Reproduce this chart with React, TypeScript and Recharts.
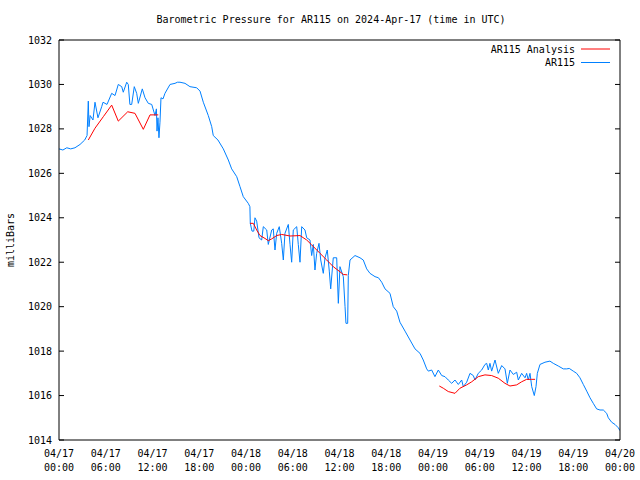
import React from "react";
import { LineChart, Line, XAxis, YAxis, Customized } from "recharts";

// Station observations (hours since 2024-04-17 00:00 UTC, pressure in mbar)
const ar115Hours = [
  0, 0.5, 1.0, 1.5, 2.05, 2.7, 3.3, 3.6, 3.76, 3.85, 4.0, 4.36, 4.62, 5.0, 5.48, 5.65, 6.16, 6.76, 7.19, 7.61,
  8.05, 8.25, 8.69, 8.89, 9.1, 9.33, 9.66, 9.97, 10.18, 10.69, 11.04, 11.46, 11.9, 12.32, 12.5, 12.58, 12.7, 12.83, 12.96, 13.09,
  13.35, 13.6, 14.25, 14.89, 15.2, 15.53, 16.17, 16.81, 17.67, 18.1, 18.52, 19.16, 19.6, 19.8, 20.4, 21.09, 21.73, 22.16, 22.81, 23.23,
  23.65, 24.29, 24.5, 24.55, 24.77, 25.0, 25.15, 25.37, 25.67, 26.01, 26.22, 26.66, 26.86, 27.3, 27.5, 27.72, 27.94, 28.27, 28.58, 28.79,
  29.0, 29.43, 29.65, 29.86, 30.07, 30.51, 30.71, 30.93, 31.15, 31.57, 31.79, 32.21, 32.43, 32.64, 32.85, 33.07, 33.37, 33.59, 33.92, 34.14,
  34.43, 34.69, 34.87, 35.2, 35.64, 35.85, 36.06, 36.49, 36.71, 36.83, 37.05, 37.13, 37.35, 37.99, 38.63, 39.05, 39.49, 39.91, 40.56, 41.0,
  41.42, 41.84, 42.48, 42.9, 43.34, 43.76, 44.41, 45.05, 45.69, 46.33, 46.75, 47.19, 47.4, 47.83, 48.25, 48.68, 49.12, 49.54, 49.96, 50.4,
  50.82, 51.25, 51.68, 51.89, 52.32, 52.75, 53.17, 53.39, 53.81, 54.25, 54.67, 54.89, 55.1, 55.31, 55.53, 55.96, 56.38, 56.82, 57.24, 57.54,
  57.88, 58.31, 58.74, 58.95, 59.38, 59.81, 60.02, 60.23, 60.45, 60.67, 61.0, 61.22, 61.39, 61.73, 62.37, 63.01, 63.44, 64.08, 64.72, 65.16,
  65.49, 66.0, 66.44, 66.86, 67.29, 67.73, 68.15, 68.57, 69.0, 69.43, 69.86, 70.29, 70.5, 70.93, 71.36, 71.78, 72.0,
];
const ar115Pressure = [
  1027.1, 1027.05, 1027.15, 1027.1, 1027.15, 1027.3, 1027.5, 1027.7, 1029.25, 1028.1, 1028.6, 1028.4, 1029.2, 1028.5, 1029.0, 1029.2, 1029.1, 1029.6, 1029.5, 1030.0,
  1029.9, 1029.65, 1030.1, 1030.0, 1029.1, 1029.1, 1029.9, 1029.6, 1029.15, 1029.8, 1029.4, 1029.15, 1029.1, 1028.6, 1028.9, 1027.9, 1028.5, 1027.6, 1028.3, 1029.4,
  1029.35, 1029.6, 1030.0, 1030.05, 1030.1, 1030.1, 1030.05, 1029.9, 1029.85, 1029.7, 1029.2, 1028.6, 1028.1, 1027.7, 1027.5, 1027.1, 1026.6, 1026.2, 1025.85, 1025.4,
  1024.95, 1024.65, 1024.5, 1023.75, 1023.4, 1023.4, 1024.0, 1023.85, 1023.1, 1023.0, 1023.6, 1023.45, 1022.8, 1023.45, 1023.5, 1022.55, 1023.3, 1023.6, 1022.85, 1022.1,
  1023.3, 1023.7, 1022.8, 1022.0, 1023.45, 1023.6, 1022.8, 1022.0, 1023.6, 1023.45, 1023.1, 1023.0, 1022.3, 1022.8, 1021.65, 1022.4, 1022.85, 1022.1, 1021.5, 1022.2,
  1022.55, 1021.6, 1020.8, 1022.2, 1022.2, 1020.15, 1021.8, 1021.35, 1020.0, 1019.25, 1019.25, 1021.4, 1022.1, 1022.3, 1022.2, 1022.1, 1021.7, 1021.5, 1021.35, 1021.3,
  1021.1, 1020.8, 1020.6, 1020.0, 1019.8, 1019.3, 1018.9, 1018.5, 1018.1, 1017.9, 1017.6, 1017.2, 1017.1, 1017.15, 1016.85, 1017.15, 1016.9, 1016.85, 1016.7, 1016.55,
  1016.7, 1016.5, 1016.7, 1016.4, 1016.6, 1017.0, 1016.9, 1016.7, 1017.0, 1017.15, 1017.4, 1017.45, 1017.15, 1017.45, 1017.1, 1017.6, 1017.0, 1017.35, 1017.2, 1016.55,
  1017.15, 1016.95, 1017.05, 1016.7, 1017.0, 1016.8, 1017.0, 1016.7, 1017.0, 1016.4, 1016.0, 1016.4, 1017.0, 1017.4, 1017.5, 1017.55, 1017.45, 1017.33, 1017.2, 1017.2,
  1017.22, 1017.1, 1017.0, 1016.8, 1016.5, 1016.2, 1015.9, 1015.65, 1015.4, 1015.35, 1015.35, 1015.2, 1015.0, 1014.8, 1014.7, 1014.55, 1014.42,
];

// Analysis values (null = gap between analysis segments)
const analysisHours = [
  3.76, 4.62, 5.69, 6.76, 7.61, 8.82, 9.75, 10.82, 11.68, 12.74,
  18.0,
  24.51, 24.94, 25.37, 25.8, 26.44, 26.86, 27.3, 27.94, 28.58, 29.65, 30.93, 31.79, 32.43, 33.5, 34.36, 35.2, 36.06, 36.49, 37.0,
  43.0,
  48.81, 49.32, 49.96, 50.82, 51.46, 52.32, 52.97, 53.81, 54.67, 55.53, 56.38, 57.24, 57.88, 58.74, 59.38, 60.02, 60.67, 61.1,
];
const analysisPressure: (number | null)[] = [
  1027.5, 1028.03, 1028.55, 1029.07, 1028.35, 1028.77, 1028.7, 1027.98, 1028.63, 1028.63,
  null,
  1023.75, 1023.75, 1023.45, 1023.2, 1023.07, 1022.97, 1023.05, 1023.2, 1023.25, 1023.18, 1023.2, 1023.0, 1022.78, 1022.4, 1022.1, 1021.8, 1021.57, 1021.45, 1021.43,
  null,
  1016.43, 1016.33, 1016.18, 1016.1, 1016.33, 1016.48, 1016.62, 1016.85, 1016.93, 1016.9, 1016.78, 1016.55, 1016.43, 1016.48, 1016.62, 1016.73, 1016.73, 1016.73,
];

const hourTicks = [
  0, 2, 4, 6, 8, 10, 12, 14, 16, 18, 20, 22, 24, 26, 28, 30, 32, 34, 36,
  38, 40, 42, 44, 46, 48, 50, 52, 54, 56, 58, 60, 62, 64, 66, 68, 70, 72,
];
const pressureTicks = [1014, 1016, 1018, 1020, 1022, 1024, 1026, 1028, 1030, 1032];

const TITLE = "Barometric Pressure for AR115 on 2024-Apr-17 (time in UTC)";
const Y_LABEL = "milliBars";
const SERIES_NAMES = ["AR115 Analysis", "AR115"];
const COLORS = ["#ff0000", "#0080ff"];

const FONT = "'DejaVu Sans Mono', monospace";

const ar115Data = ar115Hours.map((h, i) => ({ h, p: ar115Pressure[i] }));
const analysisData = analysisHours.map((h, i) => ({ h, p: analysisPressure[i] }));

const pad = (n: number) => (n < 10 ? "0" + n : "" + n);

const XTick = (props: any) => {
  const { x, y, payload } = props;
  const h = payload.value as number;
  if (h % 6 !== 0) return <g />;
  const day = 17 + Math.floor(h / 24);
  const hr = h % 24;
  return (
    <g>
      <text x={x} y={y + 17} textAnchor="middle" fontFamily={FONT} fontSize={10} fill="#000">
        {"04/" + day}
      </text>
      <text x={x} y={y + 31} textAnchor="middle" fontFamily={FONT} fontSize={10} fill="#000">
        {pad(hr) + ":00"}
      </text>
    </g>
  );
};

const Empty = () => <g />;

const Decorations = () => (
  <g>
    <text x={331} y={23} textAnchor="middle" fontFamily={FONT} fontSize={10} fill="#000">
      {TITLE}
    </text>
    <text
      x={14}
      y={240}
      textAnchor="middle"
      fontFamily={FONT}
      fontSize={10}
      fill="#000"
      transform="rotate(-90, 14, 240)"
    >
      {Y_LABEL}
    </text>
    {SERIES_NAMES.map((name, i) => (
      <g key={name}>
        <text
          x={575}
          y={49 + i * 13.5 + 3.5}
          textAnchor="end"
          fontFamily={FONT}
          fontSize={10}
          fill="#000"
        >
          {name}
        </text>
        <line x1={581} x2={610} y1={49 + i * 13.5} y2={49 + i * 13.5} stroke={COLORS[i]} strokeWidth={1} />
      </g>
    ))}
  </g>
);

export default function App() {
  return (
    <div style={{ position: "absolute", left: 0, top: 0, width: 640, height: 480, background: "#fff" }}>
      <LineChart width={640} height={480} margin={{ top: 40, right: 20, bottom: 0, left: 0 }}>
        {/* labelled axes (outside the frame) */}
        <XAxis
          xAxisId="bottom"
          dataKey="h"
          type="number"
          domain={[0, 72]}
          ticks={hourTicks}
          interval={0}
          tickSize={0}
          tickMargin={0}
          tickLine={false}
          axisLine={false}
          tick={<XTick />}
          height={40}
          allowDataOverflow
        />
        <YAxis
          yAxisId="left"
          type="number"
          domain={[1014, 1032]}
          ticks={pressureTicks}
          interval={0}
          tickSize={0}
          tickMargin={7}
          tickLine={false}
          axisLine={false}
          width={59}
          tick={{ fontFamily: FONT, fontSize: 10, fill: "#000" }}
          allowDataOverflow
        />
        {/* frame with inward (mirrored) tick marks */}
        <XAxis
          xAxisId="bottomIn"
          orientation="bottom"
          mirror
          type="number"
          domain={[0, 72]}
          ticks={hourTicks}
          interval={0}
          tickSize={5}
          tick={<Empty />}
          stroke="#000"
          allowDataOverflow
        />
        <XAxis
          xAxisId="topIn"
          orientation="top"
          mirror
          type="number"
          domain={[0, 72]}
          ticks={hourTicks}
          interval={0}
          tickSize={5}
          tick={<Empty />}
          stroke="#000"
          allowDataOverflow
        />
        <YAxis
          yAxisId="leftIn"
          orientation="left"
          mirror
          type="number"
          domain={[1014, 1032]}
          ticks={pressureTicks}
          interval={0}
          tickSize={5}
          tick={<Empty />}
          stroke="#000"
          allowDataOverflow
        />
        <YAxis
          yAxisId="rightIn"
          orientation="right"
          mirror
          type="number"
          domain={[1014, 1032]}
          ticks={pressureTicks}
          interval={0}
          tickSize={5}
          tick={<Empty />}
          stroke="#000"
          allowDataOverflow
        />
        <Line
          data={ar115Data}
          dataKey="p"
          xAxisId="bottom"
          yAxisId="left"
          type="linear"
          stroke={COLORS[1]}
          strokeWidth={1}
          dot={false}
          activeDot={false}
          isAnimationActive={false}
        />
        <Line
          data={analysisData}
          dataKey="p"
          xAxisId="bottom"
          yAxisId="left"
          type="linear"
          stroke={COLORS[0]}
          strokeWidth={1}
          dot={false}
          activeDot={false}
          connectNulls={false}
          isAnimationActive={false}
        />
        <Customized component={Decorations} />
      </LineChart>
    </div>
  );
}
